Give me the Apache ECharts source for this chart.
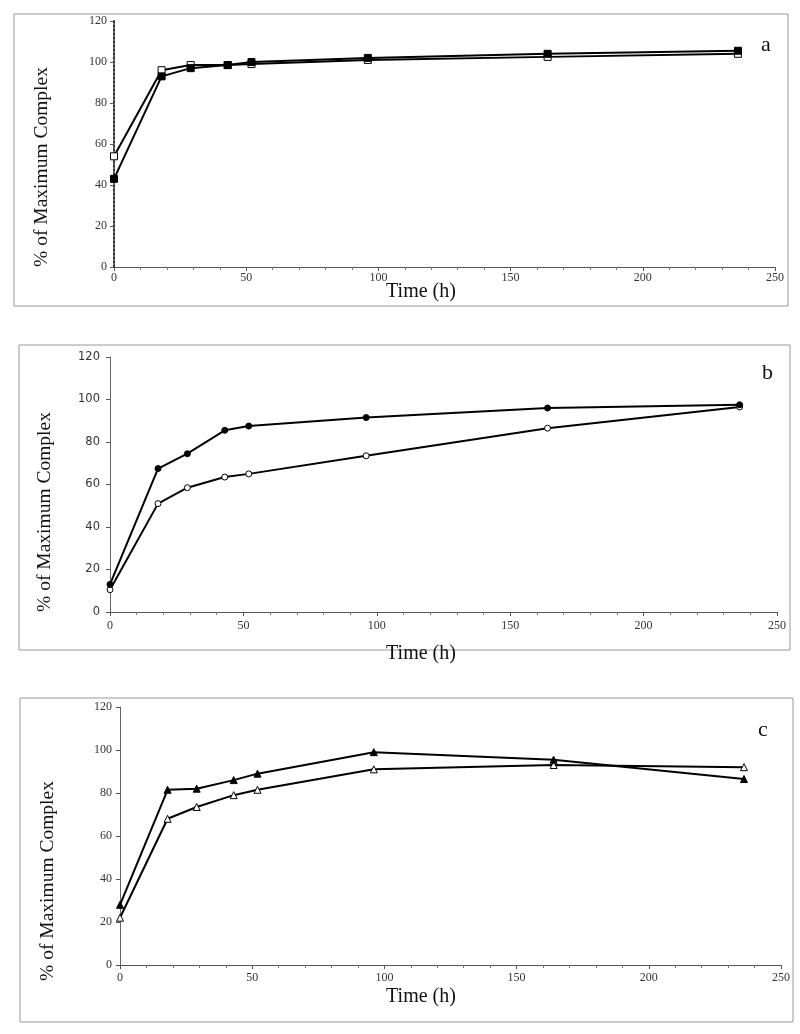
<!DOCTYPE html>
<html><head><meta charset="utf-8">
<script src="https://cdn.jsdelivr.net/npm/echarts@6/dist/echarts.min.js"></script>
<style>html,body{margin:0;padding:0;background:#fff}#c{width:800px;height:1034px}</style>
</head><body><div id="c"></div>
<script>
const times = [0, 18, 29, 43, 52, 96, 164, 236];
const xTicks = [0, 50, 100, 150, 200, 250];
const yTicks = [0, 20, 40, 60, 80, 100, 120];
const panelLabels = ['a', 'b', 'c'];
const yTitle = '% of Maximum Complex';
const xTitle = 'Time (h)';
const aFilled = [43, 93, 97, 98.5, 100, 102, 104, 105.5];
const aOpen   = [54, 96, 98.5, 98.5, 99, 101, 102.5, 104];
const bFilled = [13, 67.5, 74.5, 85.5, 87.5, 91.5, 96, 97.5];
const bOpen   = [10.5, 51, 58.5, 63.5, 65, 73.5, 86.5, 96.5];
const cFilled = [28, 81.5, 82, 86, 89, 99, 95.5, 86.5];
const cOpen   = [22, 68, 73.5, 79, 81.5, 91, 93, 92];

const pairs = (ys) => times.map((t, i) => [t, ys[i]]);
const serif = '"Liberation Serif", "DejaVu Serif", serif';
const sans = '"DejaVu Sans", sans-serif';

const grids = [
  {left: 114, right: 25, top: 21, height: 246},
  {left: 110, right: 23, top: 357, height: 255},
  {left: 120, right: 19, top: 707, height: 258}
];
const frames = [
  {x: 14, y: 14, w: 774, h: 292},
  {x: 19, y: 345, w: 771, h: 305},
  {x: 20, y: 698, w: 773, h: 324}
];
const yTitlePos = [[42, 167], [45, 512], [48, 881]];
const xTitlePos = [[421, 292], [421, 654], [421, 997]];
const labelPos = [[761, 34], [762, 362], [758, 719]];
const yLabelFont = [serif, sans, serif];
const yLabelMargin = [7, 10, 8];
const xLabelMargin = [5, 8, 7];

const xAxes = grids.map((g, i) => ({
  type: 'value', gridIndex: i, min: xTicks[0], max: xTicks[xTicks.length-1], interval: 50,
  axisLine: {lineStyle: {color: '#555', width: 1}},
  axisTick: {show: true, length: 4, lineStyle: {color: '#555'}},
  minorTick: {show: true, splitNumber: 5, length: 3, lineStyle: {color: '#777'}},
  axisLabel: {fontFamily: serif, fontSize: 12, color: '#333', margin: xLabelMargin[i]},
  splitLine: {show: false}
}));
const yAxes = grids.map((g, i) => ({
  type: 'value', gridIndex: i, min: yTicks[0], max: yTicks[yTicks.length-1], interval: 20,
  axisLine: {show: true, lineStyle: {color: i === 0 ? '#333' : '#666', width: i === 0 ? 2 : 1, type: i === 0 ? 'dotted' : 'solid'}},
  axisTick: {show: true, length: 4, lineStyle: {color: '#555'}},
  axisLabel: {fontFamily: yLabelFont[i], fontSize: i === 1 ? 11.5 : 12, color: '#333', margin: yLabelMargin[i]},
  splitLine: {show: false}
}));

function ser(i, data, symbol, filled) {
  return {
    type: 'line', xAxisIndex: i, yAxisIndex: i, data: pairs(data),
    symbol: symbol, symbolSize: symbol === 'circle' ? 6 : 7,
    showAllSymbol: true, animation: false,
    lineStyle: {color: '#000', width: 2},
    itemStyle: {color: filled ? '#000' : '#fff', borderColor: '#000', borderWidth: 1}
  };
}

const series = [
  ser(0, aOpen, 'rect', false), ser(0, aFilled, 'rect', true),
  ser(1, bOpen, 'circle', false), ser(1, bFilled, 'circle', true),
  ser(2, cOpen, 'triangle', false), ser(2, cFilled, 'triangle', true)
];

let graphic = frames.map(f => ({
  type: 'rect', shape: {x: f.x, y: f.y, width: f.w, height: f.h},
  style: {fill: 'none', stroke: '#999', lineWidth: 1}, z: -1
}));
graphic = graphic.concat(panelLabels.map((t, i) => ({
  type: 'text', x: labelPos[i][0], y: labelPos[i][1],
  style: {text: t, font: '22px ' + serif, fill: '#111'}
})));
graphic = graphic.concat(yTitlePos.map(p => ({
  type: 'text', x: p[0], y: p[1], rotation: Math.PI / 2,
  style: {text: yTitle, font: '19.5px ' + serif, fill: '#111', align: 'center', verticalAlign: 'middle'}
})));
graphic = graphic.concat(xTitlePos.map(p => ({
  type: 'text', x: p[0], y: p[1],
  style: {text: xTitle, font: '20px ' + serif, fill: '#111', align: 'center', verticalAlign: 'middle'}
})));

const chart = echarts.init(document.getElementById('c'), null, {renderer: 'canvas'});
chart.setOption({
  animation: false, backgroundColor: '#fff',
  grid: grids, xAxis: xAxes, yAxis: yAxes, series: series, graphic: graphic
});
</script></body></html>
